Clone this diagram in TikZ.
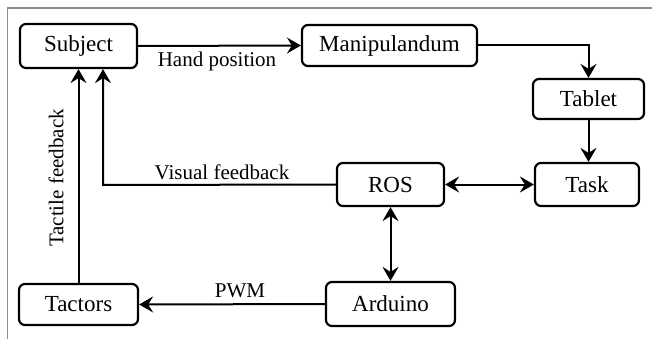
\documentclass[tikz,border=0pt]{standalone}
\usepackage{fontspec}
\setmainfont{Liberation Serif}
\usetikzlibrary{arrows.meta}
\begin{document}
\begin{tikzpicture}[x=1pt,y=-1pt,
  block/.style={draw, line width=2.2pt, rounded corners=6pt, inner sep=0pt,
    font=\rmfamily\fontsize{23}{27}\selectfont},
  tip/.tip={Stealth[length=14pt,width=16pt,inset=5pt]},
  flow/.style={line width=2pt, -tip},
  both/.style={line width=2pt, tip-tip},
  lbl/.style={font=\rmfamily\fontsize{21}{25}\selectfont, inner sep=0pt}]
  \useasboundingbox (0,0) rectangle (652,339);
  % frame lines at top and left
  \draw[line width=1.2pt, gray!90] (652,8) -- (7.5,8) -- (7.5,339);

  \node[block, minimum width=117pt, minimum height=44pt] (subj) at (78.5,46) {Subject};
  \node[block, minimum width=175pt, minimum height=41pt] (manip) at (389.5,45.5) {Manipulandum};
  \node[block, minimum width=111pt, minimum height=40pt] (tab) at (588.5,99) {Tablet};
  \node[block, minimum width=104pt, minimum height=43pt] (task) at (587,184.5) {Task};
  \node[block, minimum width=107pt, minimum height=43pt] (ros) at (390.5,184.5) {ROS};
  \node[block, minimum width=129pt, minimum height=44pt] (ard) at (390.5,304) {Arduino};
  \node[block, minimum width=119pt, minimum height=41pt] (tac) at (78.5,304.5) {Tactors};

  \coordinate (vis) at (103,185);

  \draw[flow] (subj.east) -- (manip.west);
  \node[lbl] (hand) at (217,61) {Hand position};
  \draw[flow] (manip.east) -| (tab.north);
  \draw[flow] (tab.south) -- (tab.south |- task.north);
  \draw[both] (ros.east) -- (task.west);
  \draw[both] (ros.south) -- (ard.north);
  \draw[flow] (ard.west) -- (tac.east);
  \node[lbl] (pwm) at (240,291) {PWM};
  \draw[flow] (tac.north) -- (subj.south);
  \node[lbl, rotate=90] (tact) at (56,178) {Tactile feedback};
  \draw[flow] (ros.west) -- (vis) -- (vis |- subj.south);
  \node[lbl] (visl) at (222,172) {Visual feedback};
\end{tikzpicture}
\end{document}
